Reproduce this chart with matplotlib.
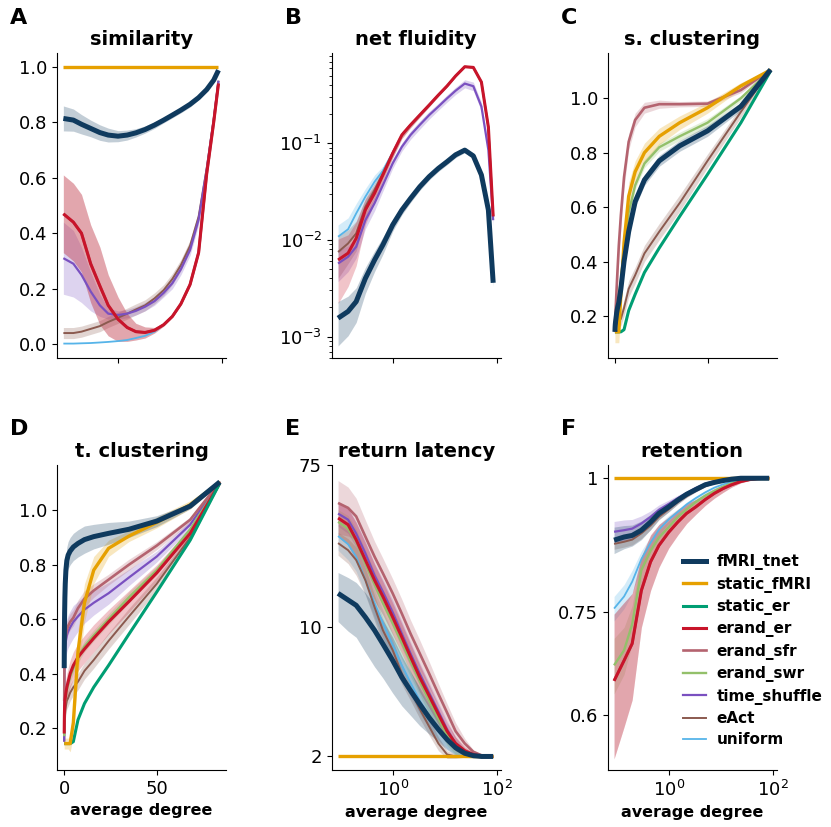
import numpy as np
import matplotlib.pyplot as plt
from matplotlib.lines import Line2D
from matplotlib.ticker import NullLocator, FixedLocator, FixedFormatter

degree = [0.09, 0.14, 0.2, 0.3, 0.45, 0.65, 1.0, 1.5, 2.2, 3.3, 5, 7.5, 11, 16, 24, 35, 50, 68, 84]

names = ["fMRI_tnet", "static_fMRI", "static_er", "erand_er", "erand_sfr",
         "erand_swr", "time_shuffle", "eAct", "uniform"]
colors = {"fMRI_tnet": "#0f3a5e", "static_fMRI": "#e6a000", "static_er": "#009e73",
          "erand_er": "#c8142a", "erand_sfr": "#b4636f", "erand_swr": "#93c06a",
          "time_shuffle": "#7a50c0", "eAct": "#8b5a4f", "uniform": "#56b4e9"}
widths = {"fMRI_tnet": 3.6, "static_fMRI": 2.4, "static_er": 2.2, "erand_er": 2.2,
          "erand_sfr": 1.9, "erand_swr": 1.7, "time_shuffle": 1.6, "eAct": 1.4, "uniform": 1.3}

# A: similarity
sim_erand = [0.47, 0.44, 0.40, 0.29, 0.21, 0.14, 0.09, 0.06, 0.045, 0.042, 0.05, 0.07, 0.10, 0.145, 0.215, 0.33, 0.615, 0.80, 0.94]
sim_erand_sd = [0.14, 0.14, 0.14, 0.14, 0.14, 0.11, 0.08, 0.05, 0.03, 0.02, 0.01, 0.005, 0.003, 0.003, 0.003, 0.003, 0.003, 0.003, 0.003]
sim_mean = {
    "fMRI_tnet": [0.814, 0.808, 0.793, 0.778, 0.763, 0.754, 0.750, 0.754, 0.762, 0.774, 0.790, 0.808, 0.826, 0.844, 0.865, 0.889, 0.918, 0.952, 0.988],
    "static_fMRI": [1.0, 1.0, 1.0, 1.0, 1.0, 1.0, 1.0, 1.0, 1.0, 1.0, 1.0, 1.0, 1.0, 1.0, 1.0, 1.0, 1.0, 1.0, 1.0],
    "erand_er": sim_erand,
    "erand_sfr": sim_erand,
    "time_shuffle": [0.31, 0.29, 0.25, 0.19, 0.14, 0.11, 0.105, 0.11, 0.12, 0.135, 0.155, 0.185, 0.22, 0.27, 0.34, 0.45, 0.63, 0.81, 0.95],
    "eAct": [0.04, 0.04, 0.045, 0.055, 0.065, 0.08, 0.095, 0.11, 0.125, 0.14, 0.165, 0.195, 0.235, 0.285, 0.355, 0.46, 0.635, 0.81, 0.95],
    "uniform": [0.002, 0.002, 0.003, 0.004, 0.006, 0.008, 0.011, 0.015, 0.022, 0.03, 0.045, 0.07, 0.1, 0.145, 0.215, 0.33, 0.615, 0.8, 0.94],
}
sim_sd = {
    "fMRI_tnet": [0.045, 0.04, 0.035, 0.03, 0.028, 0.025, 0.02, 0.018, 0.015, 0.013, 0.012, 0.01, 0.01, 0.01, 0.01, 0.008, 0.006, 0.005, 0.003],
    "erand_er": sim_erand_sd,
    "erand_sfr": sim_erand_sd,
    "time_shuffle": [0.13, 0.12, 0.1, 0.07, 0.04, 0.02, 0.015, 0.015, 0.015, 0.015, 0.015, 0.015, 0.02, 0.02, 0.02, 0.02, 0.02, 0.015, 0.005],
    "eAct": [0.02, 0.02, 0.02, 0.02, 0.02, 0.02, 0.02, 0.02, 0.02, 0.02, 0.02, 0.02, 0.02, 0.02, 0.02, 0.02, 0.02, 0.015, 0.005],
}

# B: net fluidity
flu_red = [0.0062, 0.0073, 0.0104, 0.0204, 0.0304, 0.047, 0.0789, 0.122, 0.155, 0.196, 0.249, 0.316, 0.392, 0.497, 0.62, 0.61, 0.43, 0.147, 0.0175]
flu_mean = {
    "fMRI_tnet": [0.00155, 0.00182, 0.0023, 0.0040, 0.0062, 0.0089, 0.0143, 0.0204, 0.0269, 0.0355, 0.0452, 0.055, 0.0645, 0.076, 0.085, 0.074, 0.047, 0.0204, 0.0036],
    "erand_er": flu_red,
    "time_shuffle": [0.0057, 0.0067, 0.0085, 0.016, 0.024, 0.037, 0.062, 0.092, 0.122, 0.155, 0.196, 0.24, 0.292, 0.35, 0.415, 0.39, 0.24, 0.085, 0.016],
    "eAct": [0.0075, 0.0092, 0.0117, 0.022, 0.033, 0.049, 0.079, 0.122, 0.155, 0.196, 0.249, 0.316, 0.392, 0.497, 0.62, 0.61, 0.43, 0.147, 0.0175],
    "uniform": [0.0108, 0.0129, 0.0188, 0.028, 0.04, 0.052, 0.08, 0.122, 0.155, 0.196, 0.249, 0.316, 0.392, 0.497, 0.62, 0.61, 0.43, 0.147, 0.0175],
}
flu_sd = {
    "fMRI_tnet": [0.00075, 0.0008, 0.0009, 0.0012, 0.0015, 0.0018, 0.002, 0.0022, 0.0025, 0.003, 0.0035, 0.004, 0.0045, 0.005, 0.005, 0.005, 0.004, 0.002, 0.0003],
    "erand_er": [0.004, 0.004, 0.005, 0.006, 0.006, 0.006, 0.008, 0.01, 0.01, 0.01, 0.01, 0.01, 0.01, 0.01, 0.01, 0.01, 0.01, 0.005, 0.001],
    "time_shuffle": [0.002, 0.002, 0.002, 0.003, 0.004, 0.005, 0.007, 0.009, 0.012, 0.015, 0.018, 0.02, 0.025, 0.03, 0.04, 0.04, 0.025, 0.01, 0.002],
    "eAct": [0.0035, 0.0035, 0.004, 0.005, 0.006, 0.007, 0.008, 0.01, 0.01, 0.01, 0.01, 0.01, 0.01, 0.01, 0.01, 0.01, 0.01, 0.005, 0.001],
    "uniform": [0.0035, 0.004, 0.005, 0.006, 0.007, 0.006, 0.006, 0.005, 0.005, 0.005, 0.005, 0.005, 0.005, 0.005, 0.005, 0.005, 0.005, 0.003, 0.001],
}

# C: s. clustering
scl_mean = {
    "fMRI_tnet": [0.142, 0.15, 0.16, 0.17, 0.18, 0.19, 0.21, 0.23, 0.25, 0.30, 0.40, 0.51, 0.62, 0.70, 0.77, 0.825, 0.88, 0.97, 1.105],
    "static_fMRI": [0.142, 0.142, 0.142, 0.142, 0.142, 0.142, 0.142, 0.142, 0.142, 0.28, 0.47, 0.64, 0.73, 0.80, 0.86, 0.91, 0.965, 1.045, 1.104],
    "static_er": [0.142, 0.142, 0.142, 0.142, 0.142, 0.142, 0.142, 0.142, 0.142, 0.142, 0.15, 0.22, 0.28, 0.36, 0.45, 0.566, 0.72, 0.91, 1.1],
    "erand_sfr": [0.142, 0.16, 0.18, 0.2, 0.22, 0.25, 0.3, 0.37, 0.46, 0.57, 0.71, 0.84, 0.92, 0.965, 0.978, 0.978, 0.98, 1.03, 1.104],
    "erand_swr": [0.142, 0.15, 0.16, 0.17, 0.18, 0.2, 0.22, 0.25, 0.28, 0.33, 0.45, 0.58, 0.68, 0.76, 0.82, 0.86, 0.91, 1.0, 1.104],
    "eAct": [0.142, 0.145, 0.15, 0.155, 0.16, 0.165, 0.17, 0.175, 0.18, 0.19, 0.23, 0.30, 0.35, 0.43, 0.51, 0.615, 0.77, 0.95, 1.104],
}
scl_sd = {
    "fMRI_tnet": [0.01, 0.01, 0.01, 0.01, 0.01, 0.01, 0.01, 0.01, 0.015, 0.02, 0.02, 0.02, 0.02, 0.02, 0.02, 0.02, 0.02, 0.015, 0.005],
    "static_fMRI": [0.04, 0.04, 0.04, 0.04, 0.04, 0.04, 0.04, 0.04, 0.04, 0.05, 0.05, 0.05, 0.04, 0.035, 0.03, 0.025, 0.02, 0.012, 0.005],
    "erand_sfr": [0.01, 0.02, 0.03, 0.04, 0.04, 0.05, 0.05, 0.05, 0.05, 0.05, 0.04, 0.03, 0.025, 0.02, 0.015, 0.01, 0.01, 0.01, 0.005],
    "erand_swr": [0.015, 0.015, 0.015, 0.015, 0.015, 0.015, 0.015, 0.015, 0.015, 0.015, 0.015, 0.015, 0.015, 0.015, 0.015, 0.015, 0.015, 0.01, 0.005],
    "eAct": [0.01, 0.01, 0.01, 0.01, 0.01, 0.01, 0.01, 0.015, 0.02, 0.025, 0.03, 0.03, 0.03, 0.03, 0.03, 0.03, 0.025, 0.02, 0.005],
}

# D: t. clustering
tcl_mean = {
    "fMRI_tnet": [0.42, 0.5, 0.56, 0.62, 0.68, 0.73, 0.78, 0.815, 0.835, 0.85, 0.865, 0.878, 0.892, 0.903, 0.915, 0.93, 0.96, 1.015, 1.104],
    "static_fMRI": [0.143, 0.143, 0.143, 0.143, 0.143, 0.143, 0.143, 0.143, 0.143, 0.143, 0.22, 0.48, 0.66, 0.78, 0.86, 0.905, 0.955, 1.02, 1.104],
    "static_er": [0.143, 0.143, 0.143, 0.143, 0.143, 0.143, 0.143, 0.143, 0.143, 0.143, 0.15, 0.23, 0.29, 0.35, 0.43, 0.545, 0.70, 0.89, 1.1],
    "erand_er": [0.18, 0.22, 0.25, 0.28, 0.3, 0.31, 0.33, 0.35, 0.37, 0.4, 0.43, 0.46, 0.49, 0.53, 0.59, 0.665, 0.77, 0.915, 1.1],
    "erand_sfr": [0.3, 0.36, 0.42, 0.47, 0.5, 0.52, 0.54, 0.56, 0.575, 0.59, 0.605, 0.64, 0.675, 0.705, 0.745, 0.8, 0.87, 0.965, 1.104],
    "erand_swr": [0.17, 0.21, 0.24, 0.27, 0.29, 0.30, 0.32, 0.34, 0.36, 0.39, 0.42, 0.46, 0.5, 0.54, 0.6, 0.68, 0.78, 0.93, 1.1],
    "time_shuffle": [0.15, 0.3, 0.4, 0.45, 0.48, 0.5, 0.52, 0.54, 0.555, 0.57, 0.59, 0.61, 0.635, 0.66, 0.695, 0.753, 0.83, 0.947, 1.104],
    "eAct": [0.15, 0.18, 0.2, 0.22, 0.24, 0.26, 0.28, 0.3, 0.31, 0.33, 0.35, 0.37, 0.41, 0.45, 0.52, 0.61, 0.73, 0.9, 1.1],
}
tcl_sd = {
    "fMRI_tnet": [0.02, 0.03, 0.04, 0.05, 0.05, 0.05, 0.05, 0.05, 0.05, 0.05, 0.05, 0.05, 0.05, 0.045, 0.04, 0.03, 0.02, 0.01, 0.005],
    "static_fMRI": [0.02, 0.02, 0.02, 0.02, 0.02, 0.02, 0.02, 0.02, 0.02, 0.03, 0.05, 0.08, 0.07, 0.05, 0.03, 0.02, 0.02, 0.015, 0.005],
    "erand_er": [0.02, 0.03, 0.04, 0.05, 0.05, 0.05, 0.05, 0.05, 0.05, 0.05, 0.05, 0.05, 0.05, 0.05, 0.045, 0.04, 0.03, 0.02, 0.005],
    "erand_sfr": [0.03, 0.03, 0.03, 0.03, 0.03, 0.03, 0.03, 0.03, 0.03, 0.03, 0.03, 0.03, 0.03, 0.025, 0.02, 0.02, 0.015, 0.01, 0.005],
    "erand_swr": [0.02, 0.02, 0.02, 0.02, 0.02, 0.02, 0.02, 0.02, 0.02, 0.02, 0.02, 0.02, 0.02, 0.02, 0.02, 0.02, 0.015, 0.01, 0.005],
    "time_shuffle": [0.03, 0.05, 0.06, 0.06, 0.06, 0.06, 0.06, 0.06, 0.06, 0.06, 0.06, 0.055, 0.05, 0.045, 0.04, 0.03, 0.02, 0.015, 0.005],
    "eAct": [0.03, 0.03, 0.03, 0.03, 0.03, 0.03, 0.03, 0.03, 0.03, 0.03, 0.03, 0.03, 0.03, 0.03, 0.03, 0.03, 0.025, 0.015, 0.005],
}

# E: return latency
lat_mean = {
    "fMRI_tnet": [15.2, 14.0, 13.1, 11.3, 9.6, 8.1, 6.6, 5.35, 4.53, 3.83, 3.24, 2.80, 2.47, 2.23, 2.08, 2.02, 2.0, 2.0, 2.0],
    "static_fMRI": [2.0, 2.0, 2.0, 2.0, 2.0, 2.0, 2.0, 2.0, 2.0, 2.0, 2.0, 2.0, 2.0, 2.0, 2.0, 2.0, 2.0, 2.0, 2.0],
    "erand_er": [38.8, 35.7, 29.6, 23.0, 17.9, 14.6, 11.3, 8.8, 6.9, 5.35, 4.25, 3.38, 2.74, 2.35, 2.15, 2.05, 2.01, 2.0, 2.0],
    "erand_sfr": [46.8, 44.0, 39.6, 30.8, 24.0, 19.5, 15.2, 11.8, 9.2, 7.2, 5.6, 4.35, 3.45, 2.74, 2.35, 2.12, 2.03, 2.0, 2.0],
    "erand_swr": [37, 34, 29, 22, 17, 13.5, 10.5, 8.2, 6.5, 5.1, 4.0, 3.2, 2.6, 2.25, 2.07, 2.01, 2.0, 2.0, 2.0],
    "time_shuffle": [41, 38, 32, 25, 19, 15.5, 12, 9.2, 7.2, 5.6, 4.4, 3.5, 2.8, 2.35, 2.1, 2.02, 2.0, 2.0, 2.0],
    "eAct": [28.4, 26, 23, 17.9, 12.8, 9.6, 7.5, 5.6, 4.5, 3.6, 2.9, 2.35, 2.05, 2.0, 2.0, 2.0, 2.0, 2.0, 2.0],
    "uniform": [31, 28, 24, 18, 13.5, 10.5, 8, 6.2, 5.0, 4.0, 3.3, 2.8, 2.45, 2.2, 2.07, 2.01, 2.0, 2.0, 2.0],
}
lat_sd = {
    "fMRI_tnet": [4.5, 4.5, 4.3, 4, 3.5, 2.8, 2.2, 1.6, 1.2, 0.9, 0.6, 0.4, 0.3, 0.2, 0.1, 0.05, 0.02, 0.02, 0.02],
    "erand_er": [8, 8, 7, 5.5, 4, 3, 2.2, 1.6, 1.2, 0.9, 0.6, 0.4, 0.3, 0.2, 0.1, 0.05, 0.02, 0.02, 0.02],
    "erand_sfr": [15, 13, 10, 7, 5, 4, 3, 2.3, 1.7, 1.3, 0.9, 0.6, 0.4, 0.3, 0.15, 0.05, 0.02, 0.02, 0.02],
    "erand_swr": [6, 6, 5, 4, 3, 2.5, 2, 1.5, 1.1, 0.8, 0.6, 0.4, 0.3, 0.2, 0.1, 0.05, 0.02, 0.02, 0.02],
    "time_shuffle": [6, 6, 5, 4, 3, 2.5, 2, 1.5, 1.1, 0.8, 0.6, 0.4, 0.3, 0.2, 0.1, 0.05, 0.02, 0.02, 0.02],
    "eAct": [4, 4, 4, 3, 2, 1.5, 1.0, 0.7, 0.5, 0.4, 0.3, 0.2, 0.1, 0.05, 0.02, 0.02, 0.02, 0.02, 0.02],
    "uniform": [5, 5, 4, 3, 2.3, 1.8, 1.3, 1, 0.8, 0.6, 0.45, 0.35, 0.25, 0.15, 0.08, 0.03, 0.02, 0.02, 0.02],
}

# F: retention
ret_red = [0.646, 0.675, 0.70, 0.785, 0.835, 0.865, 0.89, 0.91, 0.927, 0.94, 0.955, 0.968, 0.978, 0.986, 0.993, 0.997, 0.999, 1.0, 1.0]
ret_red_sd = [0.1, 0.09, 0.08, 0.06, 0.05, 0.04, 0.03, 0.025, 0.02, 0.015, 0.012, 0.01, 0.008, 0.005, 0.003, 0.002, 0.001, 0.0, 0.0]
ret_mean = {
    "fMRI_tnet": [0.875, 0.881, 0.884, 0.894, 0.910, 0.927, 0.940, 0.954, 0.966, 0.976, 0.986, 0.991, 0.995, 0.998, 1.0, 1.0, 1.0, 1.0, 1.0],
    "static_fMRI": [1.0, 1.0, 1.0, 1.0, 1.0, 1.0, 1.0, 1.0, 1.0, 1.0, 1.0, 1.0, 1.0, 1.0, 1.0, 1.0, 1.0, 1.0, 1.0],
    "erand_er": ret_red,
    "erand_sfr": ret_red,
    "erand_swr": [0.668, 0.69, 0.73, 0.82, 0.855, 0.88, 0.9, 0.92, 0.935, 0.95, 0.963, 0.973, 0.982, 0.989, 0.994, 0.997, 1.0, 1.0, 1.0],
    "time_shuffle": [0.891, 0.894, 0.897, 0.907, 0.920, 0.934, 0.946, 0.958, 0.968, 0.979, 0.988, 0.994, 0.996, 0.999, 1.0, 1.0, 1.0, 1.0, 1.0],
    "eAct": [0.868, 0.872, 0.876, 0.888, 0.903, 0.92, 0.935, 0.95, 0.962, 0.973, 0.983, 0.99, 0.994, 0.997, 1.0, 1.0, 1.0, 1.0, 1.0],
    "uniform": [0.755, 0.775, 0.8, 0.84, 0.87, 0.895, 0.915, 0.93, 0.945, 0.958, 0.97, 0.98, 0.987, 0.992, 0.996, 0.998, 1.0, 1.0, 1.0],
}
ret_sd = {
    "fMRI_tnet": [0.025, 0.022, 0.02, 0.018, 0.015, 0.012, 0.01, 0.008, 0.006, 0.005, 0.004, 0.003, 0.002, 0.001, 0.0, 0.0, 0.0, 0.0, 0.0],
    "erand_er": ret_red_sd,
    "erand_sfr": ret_red_sd,
    "erand_swr": [0.04, 0.035, 0.03, 0.025, 0.02, 0.015, 0.012, 0.01, 0.008, 0.006, 0.005, 0.004, 0.003, 0.002, 0.001, 0.0, 0.0, 0.0, 0.0],
    "time_shuffle": [0.02, 0.02, 0.018, 0.015, 0.012, 0.01, 0.008, 0.006, 0.005, 0.004, 0.003, 0.002, 0.001, 0.0, 0.0, 0.0, 0.0, 0.0, 0.0],
    "eAct": [0.01, 0.01, 0.01, 0.01, 0.008, 0.006, 0.005, 0.004, 0.003, 0.002, 0.002, 0.001, 0.0, 0.0, 0.0, 0.0, 0.0, 0.0, 0.0],
    "uniform": [0.02, 0.02, 0.02, 0.015, 0.012, 0.01, 0.008, 0.006, 0.005, 0.004, 0.003, 0.002, 0.001, 0.0, 0.0, 0.0, 0.0, 0.0, 0.0],
}

W, H = 831, 827
fig = plt.figure(figsize=(8.31, 8.27), dpi=100)

col_left = [57, 331.7, 607.7]
row_top = [53, 465]
ax_w, ax_h = 169, 305

panels = [
    ("A", "similarity", sim_mean, sim_sd, 0, 0, "log", "linear"),
    ("B", "net fluidity", flu_mean, flu_sd, 1, 0, "log", "log"),
    ("C", "s. clustering", scl_mean, scl_sd, 2, 0, "linear", "linear"),
    ("D", "t. clustering", tcl_mean, tcl_sd, 0, 1, "linear", "linear"),
    ("E", "return latency", lat_mean, lat_sd, 1, 1, "log", "log"),
    ("F", "retention", ret_mean, ret_sd, 2, 1, "log", "log"),
]

x = np.array(degree)
axes = {}
for letter, title, means, sds, col, row, xs, ys in panels:
    left = col_left[col] / W
    bottom = 1 - (row_top[row] + ax_h) / H
    ax = fig.add_axes([left, bottom, ax_w / W, ax_h / H])
    axes[letter] = ax
    for name in reversed(names):
        if name not in means:
            continue
        m = np.array(means[name])
        if name in sds:
            s = np.array(sds[name])
            lo = m - s
            if ys == "log":
                lo = np.maximum(lo, m * 0.3)
            ax.fill_between(x, lo, m + s, color=colors[name], alpha=0.25, lw=0)
        ax.plot(x, m, color=colors[name], lw=widths[name], solid_capstyle="butt")
    ax.set_xscale(xs)
    ax.set_yscale(ys)
    ax.spines["top"].set_visible(False)
    ax.spines["right"].set_visible(False)
    ax.tick_params(labelsize=13)
    ax.set_title(title, fontsize=14, fontweight="bold", pad=6)
    if xs == "log":
        ax.set_xlim(0.068, 117)
        ax.xaxis.set_major_locator(FixedLocator([1, 100]))
        ax.xaxis.set_minor_locator(NullLocator())
    else:
        ax.set_xlim(-3.8, 87.3)
        ax.set_xticks([0, 50])
    if row == 0:
        ax.tick_params(labelbottom=False)
    else:
        ax.set_xlabel("average degree", fontsize=11.5, fontweight="bold")
    fig.text((col_left[col] - 47) / W, 1 - [24, 435][row] / H, letter,
             fontsize=16, fontweight="bold", ha="left", va="baseline")

axes["A"].set_ylim(-0.05, 1.05)
axes["A"].set_yticks([0.0, 0.2, 0.4, 0.6, 0.8, 1.0])

axes["B"].set_ylim(6.0e-4, 0.86)

for k in ["C", "D"]:
    axes[k].set_ylim(0.046, 1.166)
    axes[k].set_yticks([0.2, 0.4, 0.6, 0.8, 1.0])

axes["E"].set_ylim(1.69, 75)
axes["E"].yaxis.set_major_locator(FixedLocator([2, 10, 75]))
axes["E"].yaxis.set_major_formatter(FixedFormatter(["2", "10", "75"]))
axes["E"].yaxis.set_minor_locator(NullLocator())

axes["F"].set_ylim(0.533, 1.029)
axes["F"].yaxis.set_major_locator(FixedLocator([0.6, 0.75, 1.0]))
axes["F"].yaxis.set_major_formatter(FixedFormatter(["0.6", "0.75", "1"]))
axes["F"].yaxis.set_minor_locator(NullLocator())

handles = [Line2D([], [], color=colors[n], lw=widths[n]) for n in names]
axes["F"].legend(handles, names, loc="upper left", bbox_to_anchor=(677 / W, 1 - 548 / H),
                 bbox_transform=fig.transFigure, frameon=False, handlelength=1.5,
                 handletextpad=0.7, labelspacing=0.42, borderpad=0.4, borderaxespad=0,
                 prop={"weight": "bold", "size": 11})

fig.savefig("out.png", dpi=100)
